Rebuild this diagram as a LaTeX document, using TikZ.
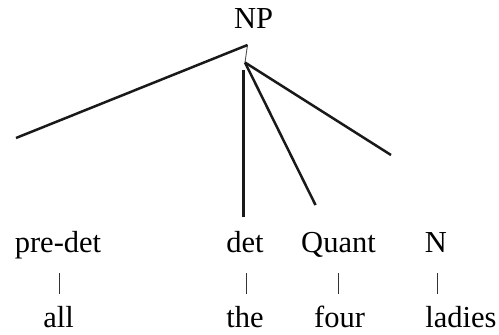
\documentclass[tikz,border=0pt]{standalone}
\usepackage{fontspec}
\setmainfont{Liberation Serif}
\newfontfamily\treefont{Liberation Serif}
\usetikzlibrary{calc}
\begin{document}
\begin{tikzpicture}[x=1pt,y=-1pt,
  lbl/.style={anchor=base,inner sep=0pt,font=\treefont\fontsize{30.5}{36}\selectfont},
  branch/.style={line width=2.5pt,black!90},
  tick/.style={line width=0.9pt,black!70},
  bar/.style={line width=0.9pt,black!80}]
\useasboundingbox (0,0) rectangle (499,335);
\node[lbl] (NP) at (253.5,28) {NP};
\node[lbl] (predet) at (58,252) {pre-det};
\node[lbl] (det) at (245,252) {det};
\node[lbl] (quant) at (338.5,252) {Quant};
\node[lbl] (N) at (436,252) {N};
\node[lbl] (all) at (58.5,327) {all};
\node[lbl] (the) at (245,327) {the};
\node[lbl] (four) at (339.5,327) {four};
\node[lbl] (ladies) at (461,327) {ladies};
\coordinate (apexA) at (247.5,45);
\coordinate (apexB) at (245,62.5);
\coordinate (endL) at (16,138);
\coordinate (detTop) at (243.5,70);
\coordinate (detBot) at (243.5,216.5);
\coordinate (endQ) at (315.5,205);
\coordinate (endN) at (391,155);
\draw[tick] (apexA) -- (apexB);
\draw[branch] (apexA) -- (endL);
\draw[branch] (detTop) -- (detBot);
\draw[branch] (apexB) -- (endQ);
\draw[branch] (apexB) -- (endN);
\draw[bar] ([xshift=1pt,yshift=-21pt]predet.base) -- ([xshift=1pt,yshift=-42pt]predet.base);
\draw[bar] ([xshift=1pt,yshift=-21pt]det.base) -- ([xshift=1pt,yshift=-42pt]det.base);
\draw[bar] ([yshift=-21pt]quant.base) -- ([yshift=-42pt]quant.base);
\draw[bar] ([xshift=1pt,yshift=-21pt]N.base) -- ([xshift=1pt,yshift=-42pt]N.base);
\end{tikzpicture}
\end{document}
